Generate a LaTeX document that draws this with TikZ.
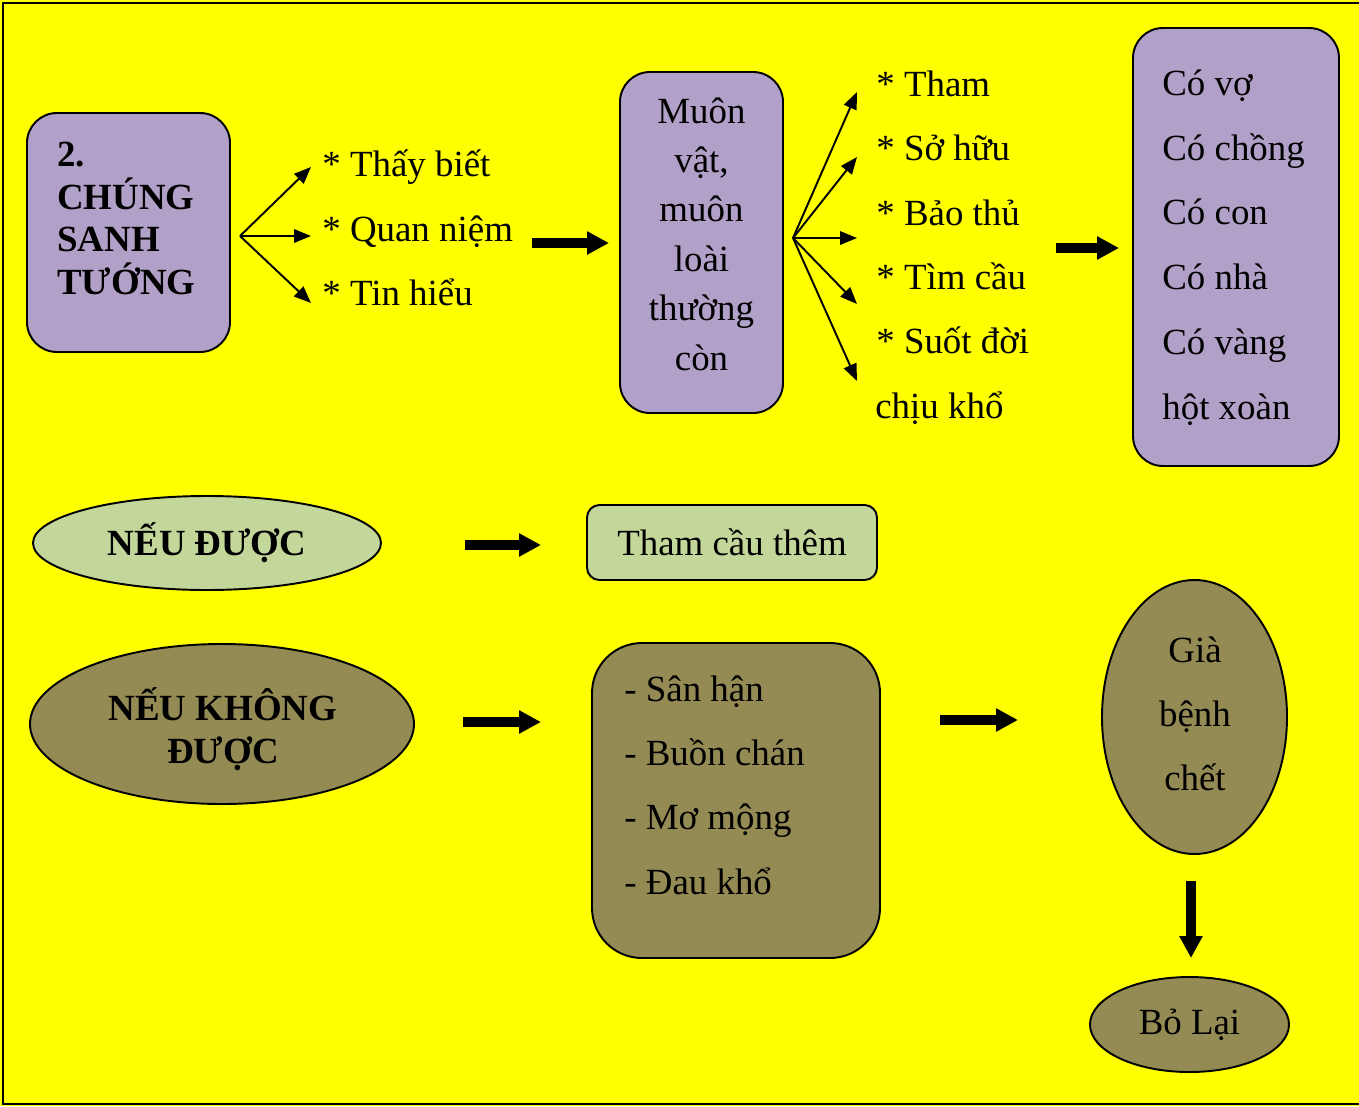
\documentclass[tikz,border=0pt]{standalone}
\usepackage{fontspec}
\setmainfont{Liberation Serif}
\usetikzlibrary{arrows.meta,shapes.geometric}

\newcommand{\pxu}{0.02cm}
\definecolor{bgyellow}{HTML}{FFFF00}
\definecolor{lavender}{HTML}{B1A0C7}
\definecolor{palegreen}{HTML}{C4D79B}
\definecolor{olivebrown}{HTML}{948A54}

\begin{document}
\begin{tikzpicture}[
    x=0.02cm,
    y=-0.02cm,
    txt/.style={
        inner sep=0,
        font=\fontsize{21}{25}\selectfont
    },
    lbox/.style={
        draw,
        line width=1.1pt,
        fill=lavender,
        rounded corners=0.6cm
    },
    gbox/.style={
        txt,
        draw,
        line width=1.1pt,
        fill=palegreen,
        rounded corners=0.25cm
    },
    gell/.style={
        txt,
        ellipse,
        draw,
        line width=1.1pt,
        fill=palegreen
    },
    obox/.style={
        draw,
        line width=1.1pt,
        fill=olivebrown,
        rounded corners=1cm
    },
    oell/.style={
        txt,
        ellipse,
        draw,
        line width=1.1pt,
        fill=olivebrown
    },
    thinarrow/.style={
        line width=1.1pt,
        -{Triangle[length=0.34cm,width=0.27cm]}
    },
    bigarrow/.style={
        line width=0.2cm,
        -{Triangle[length=0.44cm,width=0.44cm]}
    }
]

% page, background and frame
\useasboundingbox (0,0) rectangle (1359,1106);
\fill[bgyellow] (0,0) rectangle (1359,1106);
\draw[line width=1.4pt] (3,3) rectangle (1370,1104);

% top row: boxes
\node[lbox, minimum width=203*\pxu, minimum height=239*\pxu] (chung) at (128.5,232.5) {};
\node[txt, font=\fontsize{21}{24.2}\selectfont\bfseries, align=left, anchor=west] (chungtxt) at (57,218.5) {2.\\CHÚNG\\SANH\\TƯỚNG};

\node[lbox, minimum width=163*\pxu, minimum height=341*\pxu] (muon) at (701.5,242.5) {};
\node[txt, font=\fontsize{21}{28.1}\selectfont, align=center] (muontxt) at (701.5,234) {Muôn\\vật,\\muôn\\loài\\thường\\còn};

\node[lbox, minimum width=206*\pxu, minimum height=438*\pxu] (co) at (1236,247) {};
\node[txt, font=\fontsize{21}{36.9}\selectfont, align=left, anchor=west] (cotxt) at (1162,247.5) {Có vợ\\Có chồng\\Có con\\Có nhà\\Có vàng\\hột xoàn};

% first list
\node[txt, anchor=base west] (thay) at (322,176) {* Thấy biết};
\node[txt, anchor=base west] (quan) at (322,241) {* Quan niệm};
\node[txt, anchor=base west] (tin) at (322,305) {* Tin hiểu};

% second list
\node[txt, anchor=base west] (tham) at (876,96) {* Tham};
\node[txt, anchor=base west] (sohuu) at (876,160) {* Sở hữu};
\node[txt, anchor=base west] (baothu) at (876,225) {* Bảo thủ};
\node[txt, anchor=base west] (timcau) at (876,289) {* Tìm cầu};
\node[txt, anchor=base west] (suotdoi) at (876,353) {* Suốt đời};
\node[txt, anchor=base west] (chiukho) at (875,418) {chịu khổ};

% fan out points
\coordinate (fork1) at (240,236);
\coordinate (tipa) at (311,167);
\coordinate (tipb) at (311,236);
\coordinate (tipc) at (311,303);

\coordinate (fork2) at (793,238);
\coordinate (tipd) at (857,92);
\coordinate (tipe) at (857,157);
\coordinate (tipf) at (857,238);
\coordinate (tipg) at (857,304);
\coordinate (tiph) at (857,381);

% fan out arrows
\draw[thinarrow] (fork1) -- (tipa);
\draw[thinarrow] (fork1) -- (tipb);
\draw[thinarrow] (fork1) -- (tipc);

\draw[thinarrow] (fork2) -- (tipd);
\draw[thinarrow] (fork2) -- (tipe);
\draw[thinarrow] (fork2) -- (tipf);
\draw[thinarrow] (fork2) -- (tipg);
\draw[thinarrow] (fork2) -- (tiph);

% middle row
\node[gell, font=\fontsize{21}{25}\selectfont\bfseries, minimum width=348*\pxu, minimum height=94*\pxu] (duoc) at (207,543) {NẾU ĐƯỢC};
\node[gbox, minimum width=290*\pxu, minimum height=75*\pxu] (thamcau) at (732,542.5) {Tham cầu thêm};

% bottom row
\node[oell, minimum width=384*\pxu, minimum height=160*\pxu] (khong) at (222,724) {};
\node[txt, font=\fontsize{21}{24.4}\selectfont\bfseries, align=center] (khongtxt) at (223,729) {NẾU KHÔNG\\ĐƯỢC};

\node[obox, minimum width=288*\pxu, minimum height=315*\pxu] (sanhan) at (736,800.5) {};
\node[txt, font=\fontsize{21}{36.6}\selectfont, align=left, anchor=west] (sanhantxt) at (624,785) {- Sân hận\\- Buồn chán\\- Mơ mộng\\- Đau khổ};

\node[oell, minimum width=185*\pxu, minimum height=274*\pxu] (gia) at (1194.5,717) {};
\node[txt, font=\fontsize{21}{36.6}\selectfont, align=center] (giatxt) at (1195,714) {Già\\bệnh\\chết};

\node[oell, minimum width=199*\pxu, minimum height=95*\pxu] (bolai) at (1189.5,1024.5) {Bỏ Lại};

% block arrows
\coordinate (a1s) at (532,243);
\coordinate (a2s) at (1056,248);
\coordinate (a3s) at (465,545);
\coordinate (a3e) at (541,545);
\coordinate (a4s) at (463,722);
\coordinate (a4e) at (541,722);
\coordinate (a5s) at (940,720);
\coordinate (a5e) at (1018,720);
\coordinate (a6s) at (1191,881);
\coordinate (a6e) at (1191,958);

\draw[bigarrow, shorten >=0.2cm] (a1s) -- (a1s -| muon.west);
\draw[bigarrow, shorten >=0.26cm] (a2s) -- (a2s -| co.west);
\draw[bigarrow] (a3s) -- (a3e);
\draw[bigarrow] (a4s) -- (a4e);
\draw[bigarrow] (a5s) -- (a5e);
\draw[bigarrow] (a6s) -- (a6e);

\end{tikzpicture}
\end{document}
